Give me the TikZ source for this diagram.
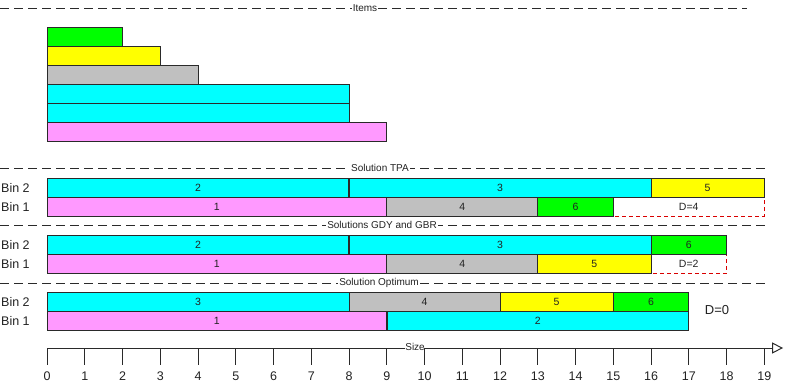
\documentclass[tikz,border=0pt]{standalone}
\usepackage{fontspec}
\setmainfont{Liberation Sans}
\usetikzlibrary{arrows.meta}
\definecolor{cgreen}{HTML}{00FF00}
\definecolor{cyellow}{HTML}{FFFF00}
\definecolor{cgray}{HTML}{C0C0C0}
\definecolor{ccyan}{HTML}{00FFFF}
\definecolor{cpink}{HTML}{FF99FF}
\definecolor{edge}{HTML}{2A2A2A}
\definecolor{txt}{HTML}{222222}
\tikzset{
  cellst/.style={draw=edge, line width=1pt},
  celltxt/.style={font=\fontsize{10.5}{12}\selectfont, text=txt, inner sep=0pt},
  binlbl/.style={font=\fontsize{12.5}{14}\selectfont, text=txt, anchor=west, inner sep=0pt},
  secline/.style={draw=edge, line width=0.9pt, dash pattern=on 9pt off 5pt},
  seclbl/.style={font=\fontsize{10}{12}\selectfont, text=txt, fill=white, inner sep=1pt},
  dbox/.style={draw=red!85!black, line width=0.9pt, dash pattern=on 4pt off 3pt},
  axnum/.style={font=\fontsize{12.5}{14}\selectfont, text=txt, inner sep=0pt},
}
\newcommand{\cellbox}[5]{\draw[cellst, fill=#4] (#1,#3) rectangle (#2,#3+19) node[midway, celltxt]{#5};}
\begin{document}
\begin{tikzpicture}[x=1pt,y=-1pt]
\useasboundingbox (0,0) rectangle (785,386);
% section lines
\draw[secline] (0,8) -- (747,8);
\node[seclbl] (lItems) at (365,8) {Items};
\draw[secline] (0,168) -- (765,168);
\node[seclbl] (lTPA) at (380,168) {Solution TPA};
\draw[secline] (0,225) -- (765,225);
\node[seclbl] (lGDY) at (382,225) {Solutions GDY and GBR};
\draw[secline] (0,283) -- (765,283);
\node[seclbl] (lOpt) at (379,283) {Solution Optimum};
% bin labels
\foreach \yy/\nm in {187.5/Bin 2, 206.5/Bin 1, 244.5/Bin 2, 263.5/Bin 1, 301.5/Bin 2, 320.5/Bin 1}
  \node[binlbl] at (1,\yy) {\nm};
\begin{scope}[xshift=47pt, x=37.75pt]
% items
\cellbox{0}{2}{27}{cgreen}{}
\cellbox{0}{3}{46}{cyellow}{}
\cellbox{0}{4}{65}{cgray}{}
\cellbox{0}{8}{84}{ccyan}{}
\cellbox{0}{8}{103}{ccyan}{}
\cellbox{0}{9}{122}{cpink}{}
% TPA
\draw[dbox] (15,197) rectangle (19,216);
\node[celltxt] (d4) at (17,206.5) {D=4};
\cellbox{0}{8}{178}{ccyan}{2}
\cellbox{8}{16}{178}{ccyan}{3}
\cellbox{16}{19}{178}{cyellow}{5}
\cellbox{0}{9}{197}{cpink}{1}
\cellbox{9}{13}{197}{cgray}{4}
\cellbox{13}{15}{197}{cgreen}{6}
\draw[edge, line width=2pt] (8,178) -- (8,197);
% GDY
\draw[dbox] (16,254) rectangle (18,273);
\node[celltxt] (d2) at (17,263.5) {D=2};
\cellbox{0}{8}{235}{ccyan}{2}
\cellbox{8}{16}{235}{ccyan}{3}
\cellbox{16}{18}{235}{cgreen}{6}
\cellbox{0}{9}{254}{cpink}{1}
\cellbox{9}{13}{254}{cgray}{4}
\cellbox{13}{16}{254}{cyellow}{5}
\draw[edge, line width=2pt] (8,235) -- (8,254);
% Optimum
\cellbox{0}{8}{292}{ccyan}{3}
\cellbox{8}{12}{292}{cgray}{4}
\cellbox{12}{15}{292}{cyellow}{5}
\cellbox{15}{17}{292}{cgreen}{6}
\cellbox{0}{9}{311}{cpink}{1}
\cellbox{9}{17}{311}{ccyan}{2}
\draw[edge, line width=2pt] (9,311) -- (9,330);
\node[font=\fontsize{13}{15}\selectfont, text=txt, inner sep=0pt] (d0) at (17.75,310) {D=0};
% axis
\coordinate (ax0) at (0,348);
\coordinate (axend) at (19.5,348);
\draw[edge, line width=1pt, -{Triangle[open, length=11pt, width=11pt, fill=white]}] (ax0) -- (axend);
\node[font=\fontsize{10}{12}\selectfont, text=txt, fill=white, inner sep=0.5pt] (size) at (9.75,347) {Size};
\foreach \i in {0,...,19}{
  \draw[edge, line width=1pt] (\i,348) -- (\i,365);
  \node[axnum] at (\i,376) {\i};
}
\end{scope}
\end{tikzpicture}
\end{document}
